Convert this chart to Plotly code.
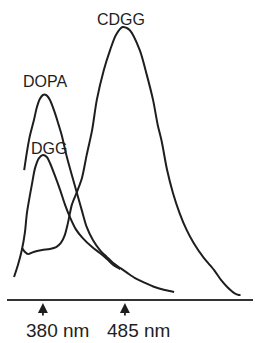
import plotly.graph_objects as go

# Wavelength (nm) and relative fluorescence intensity (CDGG peak = 100)
cdgg_wl = [353, 357, 361, 368, 379, 389, 397, 403, 408, 412, 417, 423.5, 430, 436, 443, 449, 458, 466,
           473.5, 482, 491, 504, 513, 521, 527, 532, 539, 546.5, 555, 564, 573, 586, 599, 608, 616, 625, 631, 633]
cdgg_i = [18.8, 17.3, 16.5, 17.3, 18.0, 18.4, 19.1, 20.6, 23.5, 27.9, 34.6, 39.3, 44.5, 52.9, 62.1, 73.2, 84.2, 91.5,
          97.1, 100, 98.9, 91.5, 82.4, 73.2, 64.0, 58.1, 47.4, 39.0, 31.6, 25.4, 20.6, 15.1, 10.7, 7.0, 4.4, 2.2, 1.5, 1.5]

dopa_wl = [356, 359.5, 363, 368.5, 372, 376, 380, 384, 389, 394, 399, 404, 411, 417, 423.5, 430, 436, 444,
           453, 462, 470, 479, 488, 498, 511, 523, 536, 548]
dopa_i = [47.4, 54.0, 59.6, 65.8, 70.2, 73.5, 75.0, 75.0, 73.2, 69.5, 65.1, 60.3, 51.8, 45.6, 39.0, 32.4, 26.5, 21.7,
          18.0, 15.4, 13.2, 11.4, 9.6, 7.7, 5.9, 4.4, 3.3, 2.6]

dgg_wl = [343, 348, 353, 357, 359.5, 366, 370, 375, 380, 385, 389, 395, 402, 408, 415, 422, 431, 443,
          453, 462, 470, 479]
dgg_i = [8.1, 12.5, 18.0, 24.6, 31.6, 42.3, 48.2, 51.8, 52.9, 52.2, 50.0, 45.6, 40.1, 34.9, 29.8, 25.7, 22.4, 19.1,
         16.9, 14.7, 12.5, 11.0]

curve_names = ["CDGG", "DOPA", "DGG"]
label_wl = [480, 382.6, 387.7]
label_i = [102.6, 80.1, 55.5]

marker_wl = [380, 485]
marker_text = ["380 nm", "485 nm"]
marker_text_wl = [399, 503]

INK = "#1e1e1e"
FONT = "Liberation Sans, Arial, sans-serif"

fig = go.Figure()
for wl, inten, name in [(cdgg_wl, cdgg_i, "CDGG"), (dopa_wl, dopa_i, "DOPA"), (dgg_wl, dgg_i, "DGG")]:
    fig.add_trace(go.Scatter(x=wl, y=inten, mode="lines", name=name,
                             line=dict(color=INK, width=2, shape="spline", smoothing=0.8),
                             hoverinfo="x+y+name"))

for name, x, y in zip(curve_names, label_wl, label_i):
    fig.add_annotation(x=x, y=y, xref="x", yref="y", text=name, showarrow=False,
                       font=dict(family=FONT, size=16, color=INK))

PLOT_H = 343 - 10 - 44
for wl, txt, twl in zip(marker_wl, marker_text, marker_text_wl):
    fig.add_annotation(x=wl, y=-4 / PLOT_H, xref="x", yref="paper", text="", showarrow=True,
                       ax=0, ay=14, arrowhead=2, arrowsize=1.1, arrowwidth=1.8, arrowcolor=INK)
    fig.add_annotation(x=twl, y=-31 / PLOT_H, xref="x", yref="paper", text=txt, showarrow=False,
                       yanchor="middle", font=dict(family=FONT, size=19, color=INK))

fig.update_layout(
    width=255, height=343, autosize=False,
    margin=dict(l=7, r=2, t=10, b=44, pad=0),
    paper_bgcolor="white", plot_bgcolor="white",
    showlegend=False,
    xaxis=dict(range=[334, 649], showgrid=False, zeroline=False, showticklabels=False, ticks="",
               showline=True, linewidth=2, linecolor="#333333"),
    yaxis=dict(range=[0, 106.25], showgrid=False, zeroline=False, showticklabels=False, ticks="",
               showline=False),
)

fig.write_html("out.html", config={"displayModeBar": False},
               post_script="document.body.style.margin='0';document.body.style.overflow='hidden';")
